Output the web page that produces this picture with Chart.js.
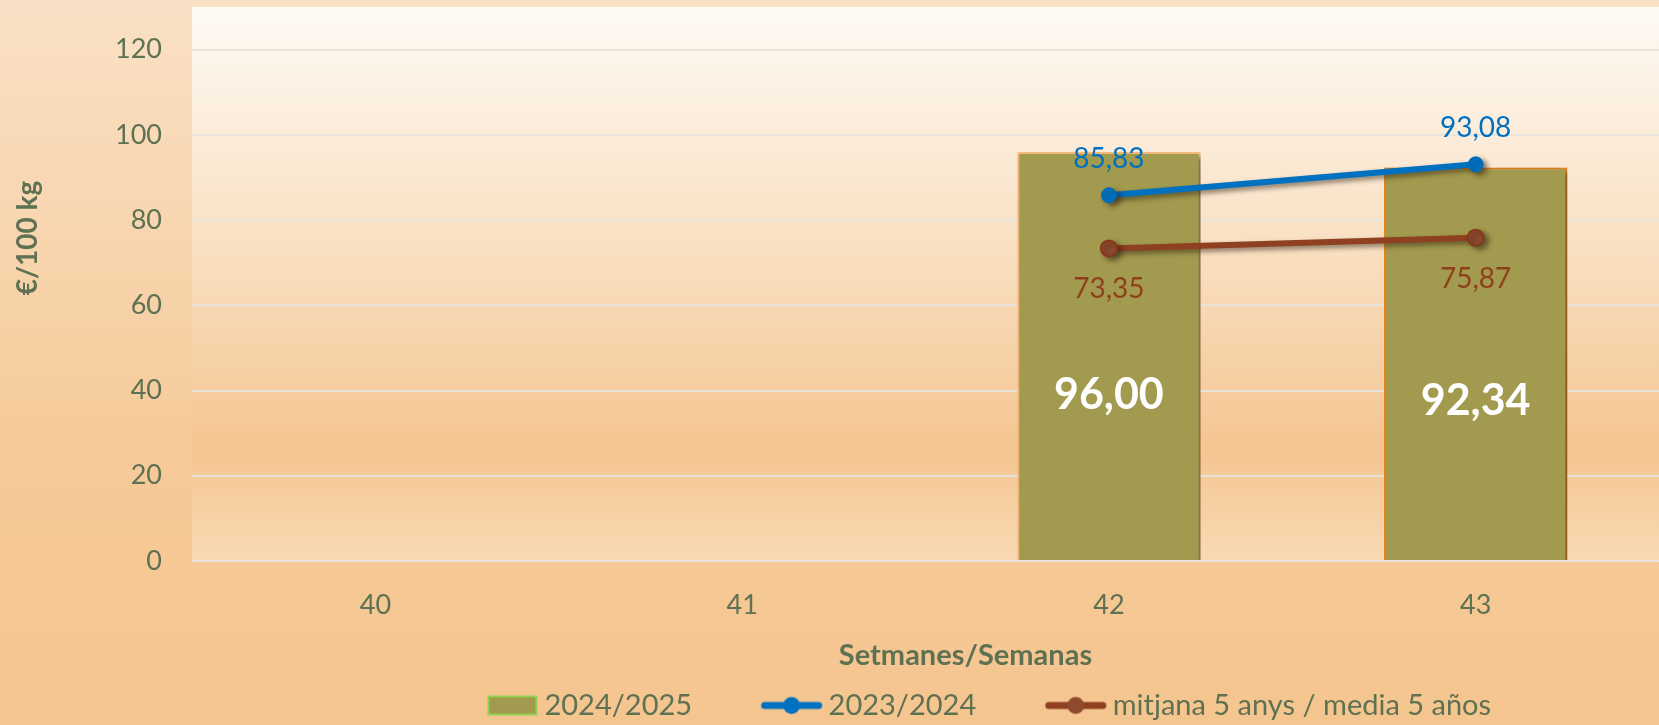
<!DOCTYPE html>
<html>
<head>
<meta charset="utf-8">
<script src="https://cdn.jsdelivr.net/npm/chart.js@4.4.0/dist/chart.umd.min.js"></script>
<style>
  html, body { margin: 0; padding: 0; }
  body { background: linear-gradient(to bottom, #fae1c6 0%, #f6cb9a 60%, #f5c58f 100%); }
  #wrap { width: 1659px; height: 725px; position: relative; }
</style>
</head>
<body>
<div id="wrap"><canvas id="chart"></canvas></div>
<script>
// setmanes
const WEEKS = ["40", "41", "42", "43"];
const SERIES_2425 = [null, null, 96.00, 92.34];
const SERIES_2324 = [null, null, 85.83, 93.08];
const SERIES_AVG5 = [null, null, 73.35, 75.87];
const LABELS = ["2024/2025", "2023/2024", "mitjana 5 anys / media 5 años"];
const X_TITLE = "Setmanes/Semanas";
const Y_TITLE = "€/100 kg";

const TEXT = "#5e7152";
const OLIVE = "#a29a4e";
const BLUE = "#0070c0";
const BROWN = "#8e4020";
const FONT = "Lato, 'Open Sans', sans-serif";

const fmt = v => v.toFixed(2).replace(".", ",");

// ── legend icons ───────────────────────────────────────────────────────────
function icon(kind, color, fill) {
  const W = 131;
  const c = document.createElement("canvas");
  c.width = W; c.height = 26;
  const g = c.getContext("2d");
  if (kind === "bar") {
    g.fillStyle = fill;
    g.fillRect(W - 52, 3, 50, 20);
    g.strokeStyle = "#92d050"; g.lineWidth = 2;
    g.strokeRect(W - 51, 4, 48, 18);
  } else {
    g.strokeStyle = color; g.lineWidth = 7; g.lineCap = "round";
    g.beginPath(); g.moveTo(W - 59, 13); g.lineTo(W - 5, 13); g.stroke();
    g.fillStyle = fill;
    g.beginPath(); g.arc(W - 32, 13, 8.5, 0, Math.PI * 2); g.fill();
  }
  return c;
}
const ICONS = [icon("bar", null, OLIVE), icon("line", BLUE, BLUE), icon("line", BROWN, "#8f4a2e")];

// ── plugins ────────────────────────────────────────────────────────────────
const plotBg = {
  id: "plotBg",
  beforeDraw(chart) {
    const { ctx, chartArea: a } = chart;
    const gr = ctx.createLinearGradient(0, a.top, 0, a.bottom);
    gr.addColorStop(0, "#fefaf5");
    gr.addColorStop(0.45, "#f9dfc0");
    gr.addColorStop(0.8, "#f5c591");
    gr.addColorStop(1, "#f9dab4");
    ctx.save();
    ctx.fillStyle = gr;
    ctx.fillRect(a.left, a.top, a.right - a.left, a.bottom - a.top);
    ctx.restore();
  },
  afterLayout(chart) {
    // legend sits right of centre and a bit lower in the original
    const l = chart.legend;
    l.left += 125; l.right += 125;
    l.top += 5; l.bottom += 5;
  },
};

// axis titles are off-centre in the original, so draw them here
const axisTitles = {
  id: "axisTitles",
  afterDraw(chart) {
    const { ctx, chartArea: a } = chart;
    ctx.save();
    ctx.fillStyle = TEXT;
    ctx.textAlign = "center";
    ctx.textBaseline = "middle";
    ctx.font = `bold 29px ${FONT}`;
    ctx.fillText(X_TITLE, (a.left + a.right) / 2 + 40, 656);
    ctx.translate(28, 238);
    ctx.rotate(-Math.PI / 2);
    ctx.font = `bold 28px ${FONT}`;
    ctx.fillText(Y_TITLE, 0, 0);
    ctx.restore();
  },
};

const shadow = {
  id: "shadow",
  beforeDatasetDraw(chart) {
    const ctx = chart.ctx;
    ctx.save();
    ctx.shadowColor = "rgba(50,35,20,0.55)";
    ctx.shadowBlur = 5;
    ctx.shadowOffsetX = 4;
    ctx.shadowOffsetY = 3;
  },
  afterDatasetDraw(chart) { chart.ctx.restore(); },
};

const valueLabels = {
  id: "valueLabels",
  afterDatasetsDraw(chart) {
    const ctx = chart.ctx;
    ctx.save();
    ctx.textAlign = "center";
    ctx.textBaseline = "middle";
    chart.data.datasets.forEach((ds, i) => {
      const meta = chart.getDatasetMeta(i);
      meta.data.forEach((el, j) => {
        const v = ds.data[j];
        if (v == null) return;
        ctx.fillStyle = ds.labelColor;
        ctx.font = ds.labelFont;
        const y = ds.type === "bar"
          ? el.base - (el.base - el.y) * 0.405
          : el.y + ds.labelOffset;
        ctx.fillText(fmt(v), el.x, y);
      });
    });
    ctx.restore();
  },
};

// ── chart ──────────────────────────────────────────────────────────────────
new Chart(document.getElementById("chart"), {
  data: {
    labels: WEEKS,
    datasets: [
      {
        type: "bar", label: LABELS[0], data: SERIES_2425, order: 2,
        backgroundColor: OLIVE, borderColor: ["#f6bd7c", "#f6bd7c", "#f6bd7c", "#e3851a"], borderWidth: 2,
        barPercentage: 0.5, categoryPercentage: 1,
        labelColor: "#ffffff", labelFont: `bold 43px ${FONT}`,
      },
      {
        type: "line", label: LABELS[1], data: SERIES_2324, order: 1,
        borderColor: BLUE, backgroundColor: BLUE, borderWidth: 6,
        pointRadius: 7.5, pointBackgroundColor: BLUE, pointBorderColor: BLUE, pointBorderWidth: 1,
        labelColor: BLUE, labelFont: `28px ${FONT}`, labelOffset: -36,
      },
      {
        type: "line", label: LABELS[2], data: SERIES_AVG5, order: 1,
        borderColor: BROWN, backgroundColor: BROWN, borderWidth: 6,
        pointRadius: 8, pointBackgroundColor: "#8f4a2e", pointBorderColor: "#87391b", pointBorderWidth: 2,
        labelColor: "#8e3f1c", labelFont: `28px ${FONT}`, labelOffset: 41,
      },
    ],
  },
  options: {
    responsive: true,
    maintainAspectRatio: false,
    animation: false,
    layout: { autoPadding: false, padding: { top: 7, left: 0, right: 0, bottom: 0 } },
    plugins: {
      tooltip: { enabled: false },
      legend: {
        position: "bottom",
        labels: {
          usePointStyle: true,
          pointStyleWidth: 112,
          padding: 10,
          color: TEXT,
          font: { family: FONT, size: 29 },
          generateLabels: chart => chart.data.datasets.map((ds, i) => ({
            text: ds.label, pointStyle: ICONS[i], fontColor: TEXT,
            datasetIndex: i, hidden: false, lineWidth: 0,
            strokeStyle: "transparent", fillStyle: "transparent",
          })),
        },
      },
    },
    scales: {
      x: {
        grid: { display: false, drawTicks: false },
        border: { display: false },
        ticks: { color: TEXT, font: { family: FONT, size: 27 }, padding: 28 },
        afterFit: s => { s.height = 115; s.paddingLeft = 0; s.paddingRight = 0; },
      },
      y: {
        min: 0, max: 130,
        grid: { color: "#e8e4da", lineWidth: 2, drawTicks: false },
        border: { display: false },
        ticks: { stepSize: 20, color: TEXT, font: { family: FONT, size: 27 }, padding: 30 },
        afterBuildTicks: s => { s.ticks = s.ticks.filter(t => t.value <= 120); },
        afterFit: s => { s.width = 192; s.paddingTop = 0; s.paddingBottom = 0; },
      },
    },
  },
  plugins: [plotBg, axisTitles, shadow, valueLabels],
});
</script>
</body>
</html>
